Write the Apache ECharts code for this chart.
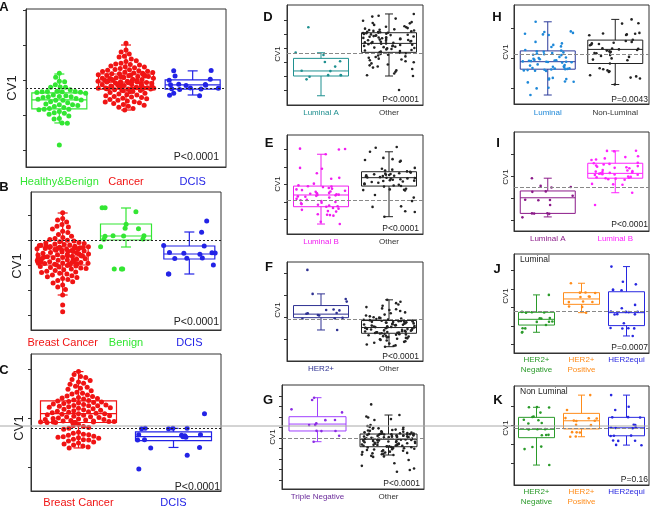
<!DOCTYPE html>
<html><head><meta charset="utf-8">
<script src="https://cdn.jsdelivr.net/npm/echarts@6/dist/echarts.min.js"></script>
<style>html,body{margin:0;padding:0;background:#fff}#c{width:650px;height:509px}</style>
</head><body><div id="c"></div>
<script>
// ---------------- DATA (CV1, arbitrary units per panel) ----------------
const catsA = ['Healthy&Benign','Cancer','DCIS'];
const A_healthy = [2.19,2.08,1.96,1.95,1.86,1.80,1.79,1.79,1.72,1.68,1.67,1.67,1.66,1.66,1.65,1.64,1.62,1.57,1.55,1.53,1.52,1.52,1.50,1.47,1.45,1.43,1.42,1.42,1.38,1.35,1.31,1.29,1.29,1.27,1.24,1.21,1.18,1.16,1.16,1.15,1.10,1.06,1.05,1.02,0.97,0.90,0.88,0.77,0.76,0.14];
const A_cancer = [3.05,2.86,2.80,2.74,2.68,2.66,2.60,2.55,2.53,2.48,2.46,2.44,2.43,2.40,2.38,2.37,2.35,2.33,2.30,2.29,2.28,2.26,2.25,2.24,2.22,2.21,2.20,2.19,2.18,2.18,
 2.16,2.15,2.15,2.14,2.13,2.12,2.11,2.10,2.10,2.09,2.08,2.07,2.06,2.05,2.05,2.04,2.03,2.02,2.01,2.00,2.00,1.99,1.98,1.97,1.96,1.96,1.95,1.94,1.94,1.93,1.92,1.91,1.90,1.90,1.89,1.88,1.87,1.86,1.86,1.85,1.84,1.83,1.82,1.82,1.81,1.80,1.80,1.79,1.78,1.78,1.77,1.77,1.76,1.76,1.75,1.75,1.75,1.74,1.74,1.74,
 1.72,1.71,1.70,1.69,1.67,1.66,1.64,1.62,1.60,1.58,1.57,1.55,1.53,1.51,1.50,1.48,1.46,1.44,1.42,1.40,1.38,1.37,1.35,1.33,1.30,1.28,1.25,1.22,1.18,1.14];
const A_dcis = [2.27,2.26,2.11,2.02,1.99,1.88,1.87,1.86,1.85,1.84,1.77,1.76,1.75,1.74,1.73,1.62,1.56,1.55];
const boxA = [[0.77,1.17,1.43,1.63,2.17],[1.14,1.74,1.94,2.17,3.0],[1.57,1.74,1.86,2.0,2.26]];
const ticksA = [0,1,2,3,4]; const refA = 1.77;

const catsB = ['Breast Cancer','Benign','DCIS'];
const B_bc = [4.09,3.86,3.80,3.72,3.62,3.55,3.52,3.44,3.35,3.30,3.22,3.15,3.10,3.06,3.02,2.99,2.96,2.93,2.90,2.88,2.86,2.84,2.82,2.80,2.79,2.78,2.76,2.75,2.74,2.73,
 2.71,2.70,2.70,2.69,2.68,2.67,2.66,2.65,2.64,2.63,2.62,2.60,2.59,2.58,2.56,2.55,2.54,2.52,2.50,2.49,2.47,2.45,2.44,2.42,2.41,2.40,2.38,2.37,2.36,2.36,2.35,2.33,2.32,2.30,2.29,2.27,2.26,2.25,2.23,2.22,2.20,2.19,2.18,2.17,2.15,2.14,2.13,2.12,2.11,2.10,2.09,2.08,2.07,2.06,2.05,2.04,2.03,2.02,2.01,2.00,
 1.98,1.96,1.94,1.92,1.90,1.88,1.86,1.84,1.81,1.78,1.75,1.72,1.70,1.67,1.64,1.60,1.57,1.53,1.50,1.46,1.42,1.38,1.33,1.28,1.20,1.12,1.02,0.80,0.40,0.13];
const B_benign = [4.29,4.29,4.13,3.63,3.47,3.45,3.17,3.16,3.17,3.15,3.04,3.03,2.73,1.84,1.84,1.84];
const B_dcis = [3.76,3.31,2.78,2.76,2.50,2.49,2.48,2.47,2.43,2.28,2.27,2.26,2.0,1.64,1.64];
const boxB = [[0.8,2.0,2.36,2.72,4.08],[2.72,3.0,3.16,3.64,4.28],[1.64,2.24,2.44,2.76,3.32]];
const ticksB = [0,1,2,3,4]; const refB = 3.0;

const catsC = ['Breast Cancer','DCIS'];
const C_bc = [1.96,1.90,1.86,1.84,1.80,1.78,1.75,1.72,1.70,1.66,1.64,1.62,1.60,1.57,1.54,1.52,1.50,1.48,1.46,1.45,1.43,1.42,1.41,1.40,1.38,1.37,1.36,
 1.35,1.34,1.33,1.32,1.31,1.30,1.29,1.28,1.27,1.26,1.26,1.25,1.24,1.23,1.22,1.21,1.20,1.19,1.18,1.17,1.16,1.15,1.14,1.13,1.12,1.11,1.10,1.10,1.09,1.08,1.07,1.06,1.05,1.04,1.03,1.02,1.01,1.00,0.99,0.98,0.98,0.97,0.96,0.95,0.95,0.94,0.94,0.93,0.93,0.93,0.92,0.92,0.92,0.92,0.92,
 0.88,0.86,0.84,0.82,0.80,0.78,0.72,0.70,0.68,0.67,0.66,0.64,0.63,0.62,0.61,0.60,0.58,0.57,0.56,0.54,0.52,0.50,0.48,0.46,0.44,0.42,0.40];
const C_dcis = [1.1,0.8,0.8,0.79,0.8,0.79,0.67,0.67,0.66,0.65,0.63,0.62,0.57,0.56,0.41,0.40,0.25,-0.03];
const boxC = [[0.4,0.92,1.1,1.36,1.96],[0.41,0.55,0.63,0.73,0.8]];
const ticksC = [0,1,2]; const refC = 0.8;

const catsD = ['Luminal A','Other'];
const D_luma = [4.48,2.67,2.5,2.05,2.0,1.67,1.38,1.35,1.07,1.06,1.05,0.95,0.76];
const D_other = [5.43,5.30,5.24,5.10,4.95,4.85,4.78,4.76,4.65,4.55,4.52,4.48,4.42,4.38,4.33,4.30,4.28,4.25,4.22,4.19,4.16,4.14,4.12,4.10,4.09,
 4.07,4.05,4.02,4.00,3.97,3.95,3.92,3.90,3.87,3.85,3.82,3.80,3.77,3.75,3.72,3.70,3.67,3.65,3.62,3.60,3.57,3.55,3.52,3.50,3.47,3.45,3.42,3.40,3.37,3.35,3.33,3.30,3.27,3.24,3.21,3.18,3.15,3.12,3.09,3.06,3.03,3.00,2.97,2.93,2.90,2.86,2.82,2.78,2.74,2.70,
 2.66,2.62,2.58,2.52,2.46,2.40,2.36,2.30,2.24,2.18,2.12,2.05,1.98,1.90,1.82,1.76,1.68,1.60,1.50,1.40,1.30,1.18,1.05,1.00,0.0];
const boxD = [[-0.41,1.0,1.36,2.26,2.66],[1.0,2.69,3.33,4.09,5.43]];
const ticksD = [0,1,2,3,4,5]; const refD = 2.62;

const catsE = ['Luminal B','Other'];
const E_lumb = [4.05,4.03,4.00,3.73,2.95,2.90,2.64,2.38,2.33,2.05,1.95,1.90,1.88,1.85,1.80,1.76,1.72,1.68,1.64,1.60,1.58,1.52,1.50,1.47,1.44,1.42,1.40,1.38,1.35,1.32,1.30,1.25,1.18,1.12,1.10,1.05,1.00,0.96,0.92,0.88,0.84,0.80,0.76,0.73,0.66,0.62,0.55,0.48,0.45,0.30,0.27,0.25,0.22,-0.13,-0.26];
const E_other = [4.14,4.10,3.87,3.52,3.45,3.40,3.35,3.30,2.95,2.90,2.85,2.80,2.75,2.72,2.68,2.64,2.62,2.60,2.58,2.56,2.54,2.52,2.50,2.48,2.46,2.44,2.42,2.40,2.39,2.37,2.35,2.33,2.30,2.27,2.24,2.22,2.20,2.17,2.14,2.10,2.06,2.02,1.98,1.94,1.91,1.88,1.76,1.72,1.70,1.68,1.66,1.40,1.25,1.05,0.75,0.72,0.47,0.43,0.16];
const boxE = [[-0.26,0.73,1.4,1.91,3.73],[0.16,1.91,2.39,2.73,3.87]];
const ticksE = [0,1,2,3,4]; const refE = 1.11;

const catsF = ['HER2+','Other'];
const F_her2 = [3.15,2.06,1.83,1.71,1.35,1.33,1.31,1.19,1.18,1.16,1.10,1.08,0.97,0.95,0.93,0.42];
const F_other = [1.79,1.70,1.64,1.58,1.52,1.46,1.40,1.36,1.33,1.28,1.22,1.18,1.12,1.08,1.04,1.00,0.98,0.96,0.94,0.92,0.90,0.89,0.88,0.87,0.86,
 0.85,0.84,0.83,0.82,0.81,0.80,0.79,0.78,0.77,0.76,0.75,0.73,0.72,0.71,0.70,0.68,0.67,0.66,0.64,0.63,0.62,0.60,0.59,0.58,0.56,0.55,0.54,0.53,0.52,0.51,0.50,0.48,0.47,0.46,0.44,0.43,0.42,0.40,0.39,0.38,0.36,0.35,0.34,0.33,0.32,0.31,0.30,0.29,0.28,0.27,
 0.26,0.25,0.23,0.22,0.20,0.18,0.16,0.14,0.12,0.10,0.08,0.06,0.04,0.02,0.00,-0.03,-0.06,-0.09,-0.12,-0.16,-0.20,-0.24,-0.28,-0.31,-0.34];
const boxF = [[0.42,0.98,1.14,1.53,2.06],[-0.34,0.27,0.53,0.85,1.79]];
const ticksF = [0,1,2,3]; const refF = 0.91;

const catsG = ['Triple Negative','Other'];
const G_tn = [7.84,7.62,6.73,6.44,5.72,5.70,5.40,5.25,5.23,4.68,4.67,4.66,4.22,3.65];
const G_other = [7.20,6.19,6.05,5.95,5.80,5.72,5.24,5.15,5.05,5.00,4.95,4.92,4.88,4.84,4.80,4.76,4.72,4.68,4.64,4.60,4.57,4.54,4.51,4.48,4.46,4.44,4.42,4.40,4.39,4.38,
 4.37,4.36,4.34,4.33,4.31,4.30,4.28,4.27,4.25,4.24,4.22,4.20,4.19,4.17,4.15,4.14,4.12,4.10,4.08,4.06,4.04,4.02,4.00,3.98,3.96,3.94,3.92,3.90,3.89,3.88,3.86,3.84,3.82,3.80,3.77,3.75,3.72,3.70,3.67,3.65,3.62,3.60,3.57,3.55,3.52,3.50,3.47,3.45,3.42,3.40,3.38,3.35,3.33,3.31,3.29,3.27,3.25,3.22,3.20,3.18,
 3.15,3.12,3.09,3.06,3.02,2.98,2.94,2.90,2.86,2.82,2.78,2.74,2.70,2.66,2.62,2.58,2.54,2.50,2.46,2.42,2.38,2.30,2.25,2.20,1.90,1.60,1.35,1.10,0.95,0.79];
const boxG = [[3.65,4.67,5.33,6.03,7.84],[2.38,3.17,3.88,4.38,6.19]];
const ticksG = [0,1,2,3,4,5,6,7,8]; const refG = 4.0;

const catsH = ['Luminal','Non-Luminal'];
const H_lum = [2.22,1.90,1.88,1.85,1.82,1.80,1.78,1.55,1.50,1.45,1.40,1.38,1.28,1.26,1.24,1.22,1.20,1.18,1.16,1.14,1.12,1.11,1.05,1.03,1.01,0.99,0.97,0.95,0.94,0.93,0.92,0.91,0.90,0.89,0.89,0.88,0.87,0.86,0.80,0.78,0.76,0.74,0.72,0.70,0.68,0.67,0.66,0.65,0.64,0.63,0.62,0.61,0.60,0.59,0.58,0.35,0.33,0.31,0.30,0.23,0.22,0.20,0.02,0.00,-0.22];
const H_non = [2.30,2.17,2.16,1.85,1.83,1.82,1.80,1.78,1.77,1.62,1.58,1.55,1.52,1.50,1.48,1.46,1.44,1.34,1.33,1.32,1.30,1.28,1.26,1.24,1.22,1.20,1.18,1.17,1.11,1.08,1.05,1.00,0.96,0.94,0.83,0.67,0.64,0.60,0.57,0.55,0.44,0.40,0.36,0.33,0.13];
const boxH = [[-0.22,0.64,0.89,1.25,2.22],[0.13,0.83,1.3,1.61,2.3]];
const ticksH = [0,1,2]; const refH = 1.13;

const catsI = ['Luminal A','Luminal B'];
const I_luma = [1.9,1.55,1.50,1.48,1.30,1.28,1.10,0.92,0.91,0.90,0.68,0.31,0.30,0.29,0.28,0.12];
const I_lumb = [3.15,3.14,3.12,2.90,2.86,2.80,2.75,2.73,2.60,2.58,2.55,2.52,2.48,2.45,2.42,2.40,2.37,2.35,2.27,2.25,2.22,2.20,2.18,2.16,2.14,2.12,2.10,2.08,2.07,2.06,2.05,1.98,1.96,1.94,1.92,1.90,1.88,1.85,1.83,1.64,1.62,1.60,1.24,0.68];
const boxI = [[0.14,0.3,1.01,1.32,1.9],[1.24,1.9,2.12,2.58,3.14]];
const ticksI = [0,1,2,3]; const refI = 1.49;

const catsJK = ['HER2+\nNegative','HER2+\nPositive','HER2equi'];
const J_neg = [2.68,1.76,1.74,1.73,1.72,1.43,1.42,1.40,1.24,1.23,1.22,1.05,0.88,0.87,0.67,0.65];
const J_pos = [3.31,2.81,2.80,2.78,2.59,2.58,2.56,2.32,2.30,2.29,2.05,2.03,1.72];
const J_equi = [4.21,3.39,3.25,2.96,2.95,2.93,2.14,1.96,1.78,1.77,1.76,1.75,1.64,1.63,1.62,1.15,0.89,0.88,0.87,0.86,0.46];
const boxJ = [[0.66,1.05,1.36,1.74,2.68],[1.72,2.17,2.46,2.8,3.31],[0.46,1.02,1.72,2.85,4.21]];
const ticksJ = [0,1,2,3,4]; const refJ = 1.77;

const K_neg = [2.97,2.96,2.95,2.68,2.47,2.45,2.30,2.28,2.13,2.11,1.81,1.80,1.79,1.51,1.50,1.49,0.89,0.87,0.76,-0.08];
const K_pos = [3.60,2.82,2.39,2.38,2.37,2.26,2.25,2.24,2.04,2.02,1.65,1.64,1.63,1.42,1.41];
const K_equi = [3.60,2.99,2.82,2.44,2.43,2.42,2.04,2.02,1.89,1.88,1.87,1.86,1.47,1.46,1.45,1.21,1.20,1.19,0.98,0.96];
const boxK = [[-0.08,1.36,1.8,2.43,2.96],[1.41,1.82,2.25,2.64,3.6],[0.97,1.46,1.88,2.43,3.6]];
const ticksK = [0,1,2,3]; const refK = 1.85;

const pvals = ['P<0.0001','P<0.0001','P<0.0001','P<0.0001','P<0.0001','P<0.0001','P<0.0001','P=0.0043','P<0.0001','P=0.0007','P=0.16'];

// ---------------- LAYOUT / STYLE ----------------
const FONT = '"Liberation Sans", Arial, sans-serif';
const GRN='#33e633', RED='#f01414', BLU='#2323e6', BLK='#222';
const panels = [
 {L:'A', g:[26,9,200,158], y:[-0.49,4.03], cats:catsA, grp:[A_healthy,A_cancer,A_dcis], dense:[1,1,0], box:boxA, ticks:ticksA, ref:refA,
  pc:[GRN,RED,BLU], bc:[GRN,RED,BLU], lc:[GRN,RED,BLU], bw:55, cap:10, sym:5, jit:56, fs:11, mg:8, big:true,
  lt:[4,7], cv:[12,88], cvs:13, p:[219,157], ps:10.5},
 {L:'B', g:[31,192,190,138], y:[-0.6,4.92], cats:catsB, grp:[B_bc,B_benign,B_dcis], dense:[1,0,0], box:boxB, ticks:ticksB, ref:refB,
  pc:[RED,GRN,BLU], bc:[RED,GRN,BLU], lc:[RED,GRN,BLU], bw:51, cap:10, sym:5, jit:52, fs:11, mg:6, big:true,
  lt:[4,187], cv:[17,266], cvs:13, p:[219,322], ps:10.5},
 {L:'C', g:[31,354,190,140], y:[-0.48,2.32], cats:catsC, grp:[C_bc,C_dcis], dense:[1,0], box:boxC, ticks:ticksC, ref:refC,
  pc:[RED,BLU], bc:[RED,BLU], lc:[RED,BLU], bw:76, cap:10, sym:5, jit:76, fs:11, mg:5, big:true,
  lt:[4,370], cv:[19,428], cvs:13, p:[220,487], ps:10.5},
 {L:'D', g:[287,5,136,100], y:[-1.07,6.07], cats:catsD, grp:[D_luma,D_other], box:boxD, ticks:ticksD, ref:refD,
  pc:['#1f9090',BLK], bc:['#1f9090',BLK], lc:['#1f8f8f','#333'], bw:55, cap:8, sym:2.6, jit:52, fs:8, mg:3,
  lt:[268,17], cv:[278,54], cvs:8, p:[419,99.5], ps:8.5},
 {L:'E', g:[287,135,136,99], y:[-0.83,4.83], cats:catsE, grp:[E_lumb,E_other], box:boxE, ticks:ticksE, ref:refE,
  pc:['#f01ef0',BLK], bc:['#f01ef0',BLK], lc:['#f01ef0','#333'], bw:55, cap:8, sym:2.6, jit:52, fs:8, mg:3,
  lt:[269,143], cv:[278,184], cvs:8, p:[419,229], ps:8.5},
 {L:'F', g:[287,262,136,99], y:[-0.99,3.51], cats:catsF, grp:[F_her2,F_other], box:boxF, ticks:ticksF, ref:refF,
  pc:['#2e3192',BLK], bc:['#2e3192',BLK], lc:['#2e3192','#333'], bw:55, cap:8, sym:2.6, jit:52, fs:8, mg:3,
  lt:[269,267], cv:[278,310], cvs:8, p:[419,357], ps:8.5},
 {L:'G', g:[282,385,142,104], y:[-0.857,9.05], cats:catsG, grp:[G_tn,G_other], box:boxG, ticks:ticksG, ref:refG,
  pc:['#8a2be2',BLK], bc:['#a040ff',BLK], lc:['#6a2a9a','#333'], bw:57, cap:8, sym:2.6, jit:54, fs:8, mg:3,
  lt:[268,400], cv:[273,437], cvs:8, p:[420,484], ps:8.5},
 {L:'H', g:[514,5,135,99], y:[-0.52,2.78], cats:catsH, grp:[H_lum,H_non], box:boxH, ticks:ticksH, ref:refH,
  pc:['#1e88d8',BLK], bc:['#2b3a9a',BLK], lc:['#1e88d8','#333'], bw:55, cap:8, sym:2.6, jit:52, fs:8, mg:4,
  lt:[497,17], cv:[506,52], cvs:8, p:[648,99.5], ps:8.5},
 {L:'I', g:[514,132,135,99], y:[-0.5,4.0], cats:catsI, grp:[I_luma,I_lumb], box:boxI, ticks:ticksI, ref:refI,
  pc:['#8b1a89','#ff22ff'], bc:['#8b1a89','#ff22ff'], lc:['#8b1a89','#ff22ff'], bw:55, cap:8, sym:2.6, jit:52, fs:8, mg:3,
  lt:[498,143], cv:[506,177], cvs:8, p:[648,225], ps:8.5},
 {L:'J', g:[514,254,135,99], y:[-0.46,4.89], cats:catsJK, grp:[J_neg,J_pos,J_equi], box:boxJ, ticks:ticksJ, ref:refJ,
  pc:['#2a9a2a','#ff8c1a','#2727e0'], bc:['#2a9a2a','#ff8c1a','#2727e0'], lc:['#2a9a2a','#ff8c1a','#2727e0'], bw:36, cap:7, sym:2.6, jit:33, fs:8, mg:2,
  lt:[497,269], cv:[506,296], cvs:8, p:[648,347.5], ps:8.5, note:'Luminal'},
 {L:'K', g:[514,386,135,99], y:[-1.13,4.08], cats:catsJK, grp:[K_neg,K_pos,K_equi], box:boxK, ticks:ticksK, ref:refK,
  pc:['#2a9a2a','#ff8c1a','#2727e0'], bc:['#2a9a2a','#ff8c1a','#2727e0'], lc:['#2a9a2a','#ff8c1a','#2727e0'], bw:36, cap:7, sym:2.6, jit:33, fs:8, mg:2,
  lt:[498,400], cv:[506,428], cvs:8, p:[648,479.5], ps:8.5, note:'Non Luminal'}
];

const grids=[], xAxes=[], yAxes=[], series=[], graphics=[];
panels.forEach((P, i) => {
  grids.push({left:P.g[0], top:P.g[1], width:P.g[2], height:P.g[3], show:true, borderColor:'#333', borderWidth:1, backgroundColor:'transparent'});
  // main visible axis: random jitter (sparse groups)
  const xMain = xAxes.length;
  xAxes.push({type:'category', gridIndex:i, data:P.cats, boundaryGap:true, position:'bottom',
    jitter:P.jit, jitterOverlap:true,
    axisLine:{onZero:false, lineStyle:{color:'#333', width:1}},
    axisTick:{alignWithLabel:true, length:3, lineStyle:{color:'#333'}},
    axisLabel:{interval:0, fontSize:P.fs, margin:P.mg, fontFamily:FONT, lineHeight:P.big?13:10,
      color:(v, idx) => P.lc[idx]}});
  // hidden twin axis: beeswarm (non-overlapping) jitter for dense groups
  let xSwarm = xMain;
  if (P.dense) {
    xSwarm = xAxes.length;
    xAxes.push({type:'category', gridIndex:i, data:P.cats, boundaryGap:true, position:'top', show:false,
      jitter:P.jit, jitterOverlap:false, jitterMargin:0.3});
  }
  yAxes.push({type:'value', gridIndex:i, min:P.y[0], max:P.y[1],
    axisLine:{show:true, onZero:false, lineStyle:{color:'#333', width:1}},
    axisTick:{show:true, customValues:P.ticks, length:3, lineStyle:{color:'#333'}},
    axisLabel:{show:false}, splitLine:{show:false}});
  const bw=P.bw, cap=P.cap, lw=P.big?1.2:1;
  series.push({type:'custom', xAxisIndex:xMain, yAxisIndex:i, silent:true, z:3,
    data:P.box.map((b,k)=>[k].concat(b)),
    encode:{x:0, y:[1,2,3,4,5]},
    markLine:{silent:true, symbol:'none', label:{show:false}, animation:false,
      lineStyle:{type:P.big?[2,2]:[4,2], color:P.big?'#222':'#888', width:1}, data:[{yAxis:P.ref}]},
    renderItem:(params, api)=>{
      const k=api.value(0);
      const lo=api.coord([k,api.value(1)]), q1=api.coord([k,api.value(2)]), md=api.coord([k,api.value(3)]),
            q3=api.coord([k,api.value(4)]), hi=api.coord([k,api.value(5)]);
      const x=lo[0], h=bw/2, c=cap/2;
      const st={stroke:P.bc[k], lineWidth:lw, fill:null};
      return {type:'group', children:[
        {type:'rect', shape:{x:x-h, y:q3[1], width:bw, height:q1[1]-q3[1]}, style:st},
        {type:'line', shape:{x1:x-h, y1:md[1], x2:x+h, y2:md[1]}, style:st},
        {type:'line', shape:{x1:x, y1:q3[1], x2:x, y2:hi[1]}, style:st},
        {type:'line', shape:{x1:x, y1:q1[1], x2:x, y2:lo[1]}, style:st},
        {type:'line', shape:{x1:x-c, y1:hi[1], x2:x+c, y2:hi[1]}, style:st},
        {type:'line', shape:{x1:x-c, y1:lo[1], x2:x+c, y2:lo[1]}, style:st}
      ]};
    }});
  P.grp.forEach((vals, k) => {
    series.push({type:'scatter', xAxisIndex:(P.dense && P.dense[k]) ? xSwarm : xMain, yAxisIndex:i, silent:true, z:4,
      symbol:'circle', symbolSize:P.sym, itemStyle:{color:P.pc[k], opacity:1},
      data: vals.map(v=>[k, v])});
  });
  graphics.push({type:'text', x:P.lt[0], y:P.lt[1], style:{text:P.L, font:'bold 13px '+FONT, fill:'#111', align:'center', verticalAlign:'middle'}});
  graphics.push({type:'text', x:P.cv[0], y:P.cv[1], rotation:Math.PI/2, style:{text:'CV1', font:P.cvs+'px '+FONT, fill:'#222', align:'center', verticalAlign:'middle'}});
  graphics.push({type:'text', x:P.p[0], y:P.p[1], style:{text:pvals[i], font:P.ps+'px '+FONT, fill:'#222', align:'right', verticalAlign:'middle'}});
  if (P.note) graphics.push({type:'text', x:P.g[0]+6, y:P.g[1]+6, style:{text:P.note, font:'8.5px '+FONT, fill:'#222', align:'left', verticalAlign:'middle'}});
});
graphics.push({type:'line', shape:{x1:0, y1:426, x2:650, y2:426}, style:{stroke:'#a8a8a8', lineWidth:1}, z:100});

const chart = echarts.init(document.getElementById('c'), null, {renderer:'canvas'});
chart.setOption({animation:false, backgroundColor:'#fff', grid:grids, xAxis:xAxes, yAxis:yAxes, series:series, graphic:graphics});
</script></body></html>
